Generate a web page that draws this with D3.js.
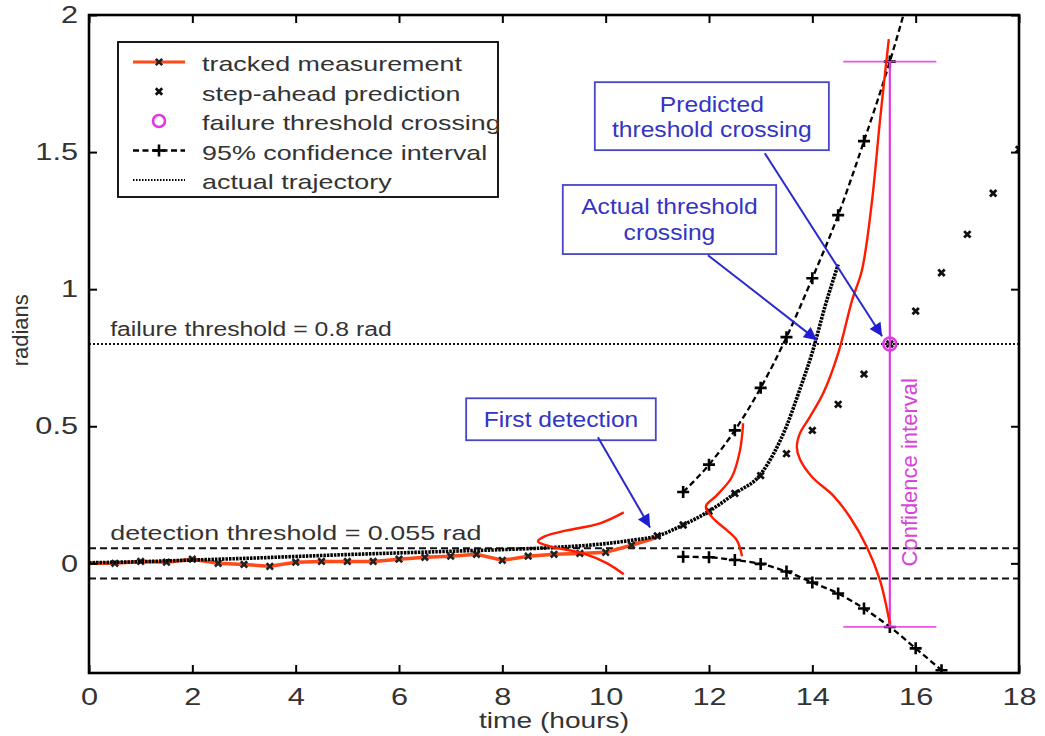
<!DOCTYPE html>
<html>
<head>
<meta charset="utf-8">
<script src="https://cdn.jsdelivr.net/npm/d3@7"></script>
<style>
  body { margin: 0; background: #fff; }
  svg { display: block; font-family: "Liberation Sans", Arial, sans-serif; }
</style>
</head>
<body>
<div id="chart"></div>
<script>
// tracked measurement (red line), hours / radians
const trackedT = [0, 0.5, 1, 1.5, 2, 2.5, 3, 3.5, 4, 4.5, 5, 5.5, 6, 6.5, 7, 7.5, 8, 8.5, 9, 9.5, 10, 10.5, 11];
const trackedY = [0, 0.0, 0.007, 0.004, 0.015, 0.0, -0.004, -0.011, 0.004, 0.007, 0.007, 0.007, 0.015, 0.022, 0.026, 0.033, 0.011, 0.026, 0.033, 0.036, 0.04, 0.066, 0.095];

// actual trajectory (dotted)
const actualT = [0, 1, 2, 3, 4, 5, 6, 7, 8, 9, 10, 10.5, 11, 11.5, 12, 12.5, 13, 13.25, 13.5, 13.75, 14, 14.25, 14.5];
const actualY = [0.002, 0.006, 0.012, 0.018, 0.025, 0.032, 0.038, 0.044, 0.05, 0.058, 0.072, 0.084, 0.10, 0.14, 0.19, 0.255, 0.325, 0.40, 0.50, 0.63, 0.77, 0.94, 1.09];

// step-ahead predictions
const predT = [11, 11.5, 12, 12.5, 13, 13.5, 14, 14.5, 15, 15.5, 16, 16.5, 17, 17.5, 18];
const predY = [0.10, 0.14, 0.19, 0.255, 0.32, 0.40, 0.485, 0.58, 0.69, 0.80, 0.92, 1.06, 1.20, 1.35, 1.51];

// 95% confidence interval
const upperT = [11.5, 12, 12.5, 13, 13.5, 14, 14.5, 15, 15.5, 16];
const upperY = [0.26, 0.36, 0.485, 0.64, 0.825, 1.04, 1.27, 1.54, 1.83, 2.16];
const lowerT = [11.5, 12, 12.5, 13, 13.5, 14, 14.5, 15, 15.5, 16, 16.5];
const lowerY = [0.024, 0.022, 0.012, -0.002, -0.03, -0.07, -0.11, -0.165, -0.232, -0.31, -0.39];

// thresholds and crossing
const detectionThreshold = 0.055;
const failureThreshold = 0.8;
const crossT = 15.5;
const crossY = 0.8;
const ciLow = -0.232, ciHigh = 1.83, ciCap = 0.9;

// hand drawn pdf sketches [t, rad]
const pdf1 = [[10.35, 0.186], [9.89, 0.146], [9.25, 0.12], [8.83, 0.099], [8.69, 0.080], [8.92, 0.062], [9.56, 0.036], [10.03, 0.0], [10.35, -0.04]];
const pdf2 = [[12.66, 0.511], [12.6, 0.412], [12.44, 0.314], [12.15, 0.248], [11.94, 0.208], [12.06, 0.168], [12.35, 0.12], [12.54, 0.084], [12.64, 0.026]];
const pdf3 = [[15.48, 1.912], [15.31, 1.617], [15.15, 1.314], [14.96, 1.069], [14.77, 0.96], [14.5, 0.766], [14.21, 0.62], [13.95, 0.533],
  [13.76, 0.474], [13.70, 0.423], [13.76, 0.38], [14.0, 0.314], [14.40, 0.248], [14.73, 0.168], [15.06, 0.058], [15.31, -0.062], [15.5, -0.219]];

const xTicks = [0, 2, 4, 6, 8, 10, 12, 14, 16, 18];
const yTicks = [0, 0.5, 1, 1.5, 2];

const legendLabels = ['tracked measurement', 'step-ahead prediction', 'failure threshold crossing', '95% confidence interval', 'actual trajectory'];

// annotation boxes: [t0, t1, yTop, yBottom], text lines, text baselines
const notes = [
  { box: [7.30, 10.97, 0.602, 0.449], lines: ['First detection'], base: [0.496], from: [9.85, 0.46], to: [10.86, 0.131] },
  { box: [9.17, 13.30, 1.380, 1.128], lines: ['Actual threshold', 'crossing'], base: [1.274, 1.179], from: [11.98, 1.124], to: [14.09, 0.814] },
  { box: [9.79, 14.32, 1.755, 1.507], lines: ['Predicted', 'threshold crossing'], base: [1.646, 1.555], from: [13.08, 1.496], to: [15.35, 0.828] }
];

const width = 1045, height = 736;
const margin = { top: 15, right: 26, bottom: 63, left: 89 };
const SX = 1.28;   // the picture is stretched sideways
const magenta = '#e03ae0';
const blue = '#3434c4';
const red = '#ff1a00';

const svg = d3.select('#chart').append('svg')
  .attr('width', width)
  .attr('height', height);

const x = d3.scaleLinear().domain([0, 18]).range([margin.left, width - margin.right]);
const y = d3.scaleLinear().domain([-0.4, 2]).range([height - margin.bottom, margin.top]);

svg.append('defs').append('clipPath').attr('id', 'plot')
  .append('rect')
  .attr('x', x(0)).attr('y', y(2))
  .attr('width', x(18) - x(0)).attr('height', y(-0.4) - y(2));

svg.select('defs').append('marker')
  .attr('id', 'arrow')
  .attr('viewBox', '0 0 10 10')
  .attr('refX', 10).attr('refY', 5)
  .attr('markerUnits', 'userSpaceOnUse')
  .attr('markerWidth', 17).attr('markerHeight', 13)
  .attr('orient', 'auto')
  .append('path').attr('d', 'M0,0 L10,5 L0,10 Z').attr('fill', '#1e1ed0');

function txt(g, str, px, py, size, sx, anchor, fill) {
  return g.append('text')
    .attr('transform', `translate(${px},${py}) scale(${sx},1)`)
    .attr('text-anchor', anchor || 'start')
    .attr('font-size', size)
    .attr('fill', fill || '#333')
    .text(str);
}

const cross = s => `M${-s},${-s}L${s},${s}M${-s},${s}L${s},${-s}`;
const plus = s => `M${-s},0L${s},0M0,${-s}L0,${s}`;

const line = d3.line().x(d => x(d[0])).y(d => y(d[1])).curve(d3.curveMonotoneX);
const sketch = d3.line().x(d => x(d[0])).y(d => y(d[1])).curve(d3.curveCatmullRom.alpha(0.5));

const plot = svg.append('g').attr('clip-path', 'url(#plot)');

// threshold lines
plot.selectAll('.det').data([detectionThreshold, -detectionThreshold]).join('line')
  .attr('x1', x(0)).attr('x2', x(18))
  .attr('y1', d => y(d)).attr('y2', d => y(d))
  .attr('stroke', '#111').attr('stroke-width', 2).attr('stroke-dasharray', '7,4');

plot.append('line')
  .attr('x1', x(0)).attr('x2', x(18))
  .attr('y1', y(failureThreshold)).attr('y2', y(failureThreshold))
  .attr('stroke', '#111').attr('stroke-width', 2).attr('stroke-dasharray', '2,2');

// tracked measurement
const tracked = trackedT.map((t, i) => [t, trackedY[i]]);
plot.append('path').datum(tracked)
  .attr('d', d3.line().x(d => x(d[0])).y(d => y(d[1])))
  .attr('fill', 'none').attr('stroke', '#ff4a1a').attr('stroke-width', 3.5);
plot.selectAll('.tm').data(tracked.slice(1, -1)).join('path')
  .attr('transform', d => `translate(${x(d[0])},${y(d[1])})`)
  .attr('d', cross(3.2)).attr('stroke', '#222').attr('stroke-width', 2.6);

// actual trajectory
plot.append('path').datum(actualT.map((t, i) => [t, actualY[i]]))
  .attr('d', line)
  .attr('fill', 'none').attr('stroke', '#000').attr('stroke-width', 3.6).attr('stroke-dasharray', '2.5,1');

// confidence bounds
const upper = upperT.map((t, i) => [t, upperY[i]]);
const lower = lowerT.map((t, i) => [t, lowerY[i]]);
[upper, lower].forEach(arr => {
  plot.append('path').datum(arr)
    .attr('d', line)
    .attr('fill', 'none').attr('stroke', '#000').attr('stroke-width', 2.3).attr('stroke-dasharray', '6,3.5');
});
plot.selectAll('.cim').data(upper.slice(0, -1).concat(lower)).join('path')
  .attr('transform', d => `translate(${x(d[0])},${y(d[1])})`)
  .attr('d', plus(6)).attr('stroke', '#000').attr('stroke-width', 2.6);

// step-ahead predictions
plot.selectAll('.pr').data(predT.map((t, i) => [t, predY[i]])).join('path')
  .attr('transform', d => `translate(${x(d[0])},${y(d[1])})`)
  .attr('d', cross(3.2)).attr('stroke', '#111').attr('stroke-width', 2.8);

// confidence interval bar
const ci = svg.append('g').attr('stroke', magenta).attr('stroke-width', 2.2);
ci.append('line').attr('x1', x(crossT)).attr('x2', x(crossT)).attr('y1', y(ciHigh)).attr('y2', y(ciLow));
[ciHigh, ciLow].forEach(v => {
  ci.append('line').attr('x1', x(crossT - ciCap)).attr('x2', x(crossT + ciCap)).attr('y1', y(v)).attr('y2', y(v))
    .attr('stroke-width', 1.8).attr('opacity', 0.85);
});

// pdf sketches
[pdf1, pdf2, pdf3].forEach(p => {
  svg.append('path').datum(p).attr('d', sketch)
    .attr('fill', 'none').attr('stroke', red).attr('stroke-width', 2.4);
});

svg.append('circle').attr('cx', x(crossT)).attr('cy', y(crossY)).attr('r', 6.5)
  .attr('fill', 'none').attr('stroke', magenta).attr('stroke-width', 2.6);

txt(svg, 'Confidence interval', 0, 0, 22, 1, 'middle', '#d844d8')
  .attr('transform', `translate(${x(15.87) + 8},${y(0.332)}) rotate(-90)`);

// threshold labels
txt(svg, 'detection threshold = 0.055 rad', x(0.41), y(0.084), 21, SX);
txt(svg, 'failure threshold = 0.8 rad', x(0.41), y(0.828), 21, 1.18);

// annotation boxes
const ann = svg.append('g');
notes.forEach(n => {
  ann.append('rect')
    .attr('x', x(n.box[0])).attr('y', y(n.box[2]))
    .attr('width', x(n.box[1]) - x(n.box[0])).attr('height', y(n.box[3]) - y(n.box[2]))
    .attr('fill', '#fff').attr('stroke', '#4646c8').attr('stroke-width', 1.8);
  n.lines.forEach((l, i) => {
    txt(ann, l, x((n.box[0] + n.box[1]) / 2), y(n.base[i]), 22, 1.12, 'middle', blue);
  });
  ann.append('line')
    .attr('x1', x(n.from[0])).attr('y1', y(n.from[1]))
    .attr('x2', x(n.to[0])).attr('y2', y(n.to[1]))
    .attr('stroke', '#2a2acc').attr('stroke-width', 2).attr('marker-end', 'url(#arrow)');
});

// axes, ticks inward on all four sides
function styleAxis(g) {
  g.select('.domain').remove();
  g.selectAll('.tick line').attr('stroke', '#000').attr('stroke-width', 2);
}
const fmt = d => String(d);
svg.append('g').attr('transform', `translate(0,${y(-0.4)})`)
  .call(d3.axisBottom(x).tickValues(xTicks).tickFormat(fmt).tickSizeInner(-8).tickSizeOuter(0).tickPadding(15))
  .call(styleAxis)
  .call(g => g.selectAll('text').attr('font-size', 24).attr('fill', '#333')
    .attr('font-family', '"Liberation Sans", Arial, sans-serif').attr('transform', `scale(${SX},1)`));
svg.append('g').attr('transform', `translate(0,${y(2)})`)
  .call(d3.axisTop(x).tickValues(xTicks).tickFormat('').tickSizeInner(-8).tickSizeOuter(0))
  .call(styleAxis);
svg.append('g').attr('transform', `translate(${x(0)},0)`)
  .call(d3.axisLeft(y).tickValues(yTicks).tickFormat(fmt).tickSizeInner(-8).tickSizeOuter(0).tickPadding(11))
  .call(styleAxis)
  .call(g => g.selectAll('text').attr('font-size', 24).attr('fill', '#333')
    .attr('font-family', '"Liberation Sans", Arial, sans-serif')
    .attr('x', -11 / SX).attr('transform', `scale(${SX},1)`));
svg.append('g').attr('transform', `translate(${x(18)},0)`)
  .call(d3.axisRight(y).tickValues(yTicks).tickFormat('').tickSizeInner(-8).tickSizeOuter(0))
  .call(styleAxis);

svg.append('rect')
  .attr('x', x(0)).attr('y', y(2))
  .attr('width', x(18) - x(0)).attr('height', y(-0.4) - y(2))
  .attr('fill', 'none').attr('stroke', '#000').attr('stroke-width', 2.6);

txt(svg, 'time (hours)', (x(0) + x(18)) / 2, height - 8, 22, SX, 'middle');
txt(svg, 'radians', 0, 0, 22, 1, 'middle').attr('transform', `translate(28,${y(0.85)}) rotate(-90)`);

// legend
const lg = svg.append('g');
lg.append('rect').attr('x', 118).attr('y', 42).attr('width', 380).attr('height', 155)
  .attr('fill', '#fff').attr('stroke', '#000').attr('stroke-width', 1.8);
legendLabels.forEach((lab, i) => {
  const cy = 62 + i * 29.5;
  const sym = lg.append('g').attr('transform', `translate(159,${cy})`);
  if (i === 0) {
    sym.append('line').attr('x1', -26).attr('x2', 26).attr('stroke', '#ff4a1a').attr('stroke-width', 3);
    sym.append('path').attr('d', cross(3.2)).attr('stroke', '#222').attr('stroke-width', 2.6);
  } else if (i === 1) {
    sym.append('path').attr('d', cross(3.2)).attr('stroke', '#111').attr('stroke-width', 2.8);
  } else if (i === 2) {
    sym.append('circle').attr('r', 6).attr('fill', 'none').attr('stroke', magenta).attr('stroke-width', 2.6);
  } else if (i === 3) {
    sym.append('line').attr('x1', -26).attr('x2', 26).attr('stroke', '#000').attr('stroke-width', 2.3).attr('stroke-dasharray', '6,3.5');
    sym.append('path').attr('d', plus(6)).attr('stroke', '#000').attr('stroke-width', 2.6);
  } else {
    sym.append('line').attr('x1', -26).attr('x2', 26).attr('stroke', '#000').attr('stroke-width', 1.8).attr('stroke-dasharray', '1.5,1.5');
  }
  txt(lg, lab, 202, cy + 9, 21, SX);
});
</script>
</body>
</html>
